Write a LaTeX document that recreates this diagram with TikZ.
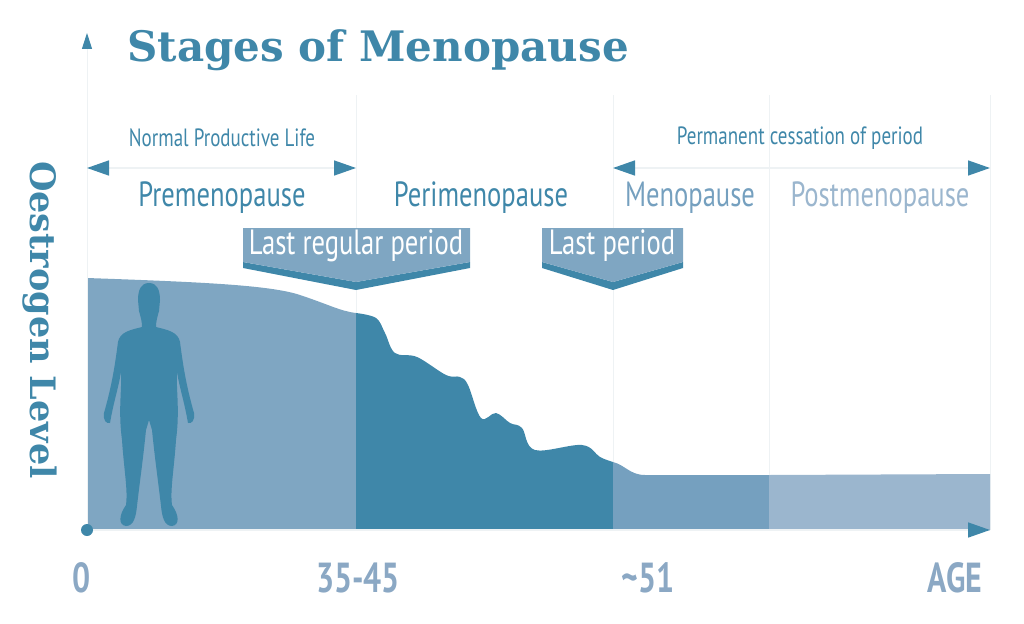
\documentclass[tikz,border=0pt]{standalone}
\usepackage{fontspec}
\setsansfont[FakeStretch=0.76]{PT Sans}
\newfontfamily\slabfont{DejaVu Serif}
\usetikzlibrary{arrows.meta,positioning}
\definecolor{mblue}{HTML}{3F87A9}
\definecolor{mlight}{HTML}{7FA6C2}
\definecolor{mmeno}{HTML}{75A0BF}
\definecolor{mpost}{HTML}{9BB6CE}
\definecolor{mpale}{HTML}{EEF2F4}
\definecolor{mtick}{HTML}{8BA8C4}
\begin{document}
\begin{tikzpicture}[x=1pt,y=-1pt,
  stage/.style={font=\sffamily\fontsize{35}{35}\selectfont,text=mblue},
  spanlabel/.style={font=\sffamily\fontsize{25}{25}\selectfont,text=mblue},
  agelab/.style={font=\sffamily\bfseries\fontsize{42}{42}\selectfont,text=mtick},
  guide/.style={mpale,line width=1pt},
  spanline/.style={mpale,line width=1.5pt,{Triangle[color=mblue,length=22pt,width=15pt]}-{Triangle[color=mblue,length=22pt,width=15pt]}},
  callout/.style={fill=mlight,draw=none}]
\useasboundingbox (0,0) rectangle (1024,623);
% guide lines
\foreach \gx in {356,613,769,990}
  \draw[guide] (\gx,95) -- (\gx,530);
% areas
\fill[mlight] (87,530) -- (87,278) .. controls (200,282) and (270,285) .. (300,295)
  .. controls (330,305) and (340,311) .. (356,313) -- (356,530) -- cycle;
\fill[mblue] (356,530) -- plot[smooth,tension=0.6] coordinates {(356,313) (376,318) (385,333) (395,353) (417,357)
  (446,375) (460,377) (468,385) (481,418) (496,413) (510,423) (522,428) (535,450) (582,445) (600,457) (613,462)} -- (613,530) -- cycle;
\fill[mmeno] (613,530) -- (613,462) .. controls (625,465) and (630,475) .. (645,475) -- (769,475) -- (769,530) -- cycle;
\fill[mpost] (769,530) -- (769,475) -- (990,474) -- (990,530) -- cycle;
% woman silhouette
\fill[mblue] (149,283) .. controls (141,283) and (138,290) .. (138,300) -- (139,311)
  .. controls (141,318) and (142,322) .. (142,327) .. controls (130,330) and (120,332) .. (118,342)
  .. controls (115,365) and (112,385) .. (104,413) .. controls (103,420) and (106,424) .. (110,423)
  .. controls (114,400) and (118,390) .. (121,372) .. controls (122,390) and (118,410) .. (122,440)
  .. controls (124,470) and (128,490) .. (126,505) .. controls (119,515) and (118,525) .. (126,526)
  .. controls (134,526) and (136,516) .. (137,506) .. controls (140,480) and (143,460) .. (146,430)
  -- (149,420) -- (152,430) .. controls (155,460) and (158,480) .. (161,506)
  .. controls (162,516) and (164,526) .. (172,526) .. controls (180,525) and (179,515) .. (172,505)
  .. controls (170,490) and (174,470) .. (176,440) .. controls (180,410) and (176,390) .. (177,372)
  .. controls (180,390) and (184,400) .. (188,423) .. controls (192,424) and (195,420) .. (194,413)
  .. controls (186,385) and (183,365) .. (180,342) .. controls (178,332) and (168,330) .. (156,327)
  .. controls (156,322) and (157,318) .. (159,311) -- (160,300) .. controls (160,290) and (157,283) .. (149,283) -- cycle;
% axes
\coordinate (origin) at (87,530);
\coordinate (ytop) at (87,33);
\coordinate (xend) at (990,530);
\draw[guide,-{Triangle[color=mblue,length=16pt,width=10pt]}] (origin) -- (ytop);
\draw[guide,line width=1.5pt,-{Triangle[color=mblue,length=22pt,width=15pt]}] (origin) -- (xend);
\fill[mblue] (origin) circle (6);
% title and axis label
\node[font=\slabfont\bfseries\fontsize{42}{42}\selectfont,text=mblue,anchor=west] (title) at (124,50) {Stages of Menopause};
\node[font=\slabfont\bfseries\fontsize{35}{35}\selectfont,text=mblue,rotate=-90] (ylabel) at (40,320) {Oestrogen Level};
% spans
\coordinate (s1a) at (87,168);
\coordinate (s1b) at (356,168);
\coordinate (s2a) at (613,168);
\coordinate (s2b) at (990,168);
\draw[spanline] (s1a) -- (s1b);
\draw[spanline] (s2a) -- (s2b);
\node[spanlabel] (normal) at (222,138) {Normal Productive Life};
\node[spanlabel] (cessation) at (800,138) {Permanent cessation of period};
% stage names
\node[stage] (pre) at (222,198) {Premenopause};
\node[stage] (peri) at (481,198) {Perimenopause};
\node[stage,text=mmeno] (meno) at (690,198) {Menopause};
\node[stage,text=mpost] (post) at (880,198) {Postmenopause};
% callouts
\fill[mblue] (243,262) -- (356,282) -- (470,262) -- (470,268) -- (356,290) -- (243,268) -- cycle;
\fill[callout] (243,228) -- (470,228) -- (470,262) -- (356,282) -- (243,262) -- cycle;
\node[font=\sffamily\fontsize{35}{35}\selectfont,text=white] (lastreg) at (356,246) {Last regular period};
\fill[mblue] (542,262) -- (613,282) -- (683,262) -- (683,268) -- (613,290) -- (542,268) -- cycle;
\fill[callout] (542,228) -- (683,228) -- (683,262) -- (613,282) -- (542,262) -- cycle;
\node[font=\sffamily\fontsize{35}{35}\selectfont,text=white] (last) at (612,246) {Last period};
% ages
\node[agelab] (a0) at (82,578) {0};
\node[agelab] (a1) at (358,578) {35-45};
\node[agelab] (a2) at (648,578) {\textasciitilde51};
\node[agelab] (a3) at (955,578) {AGE};
\end{tikzpicture}
\end{document}
